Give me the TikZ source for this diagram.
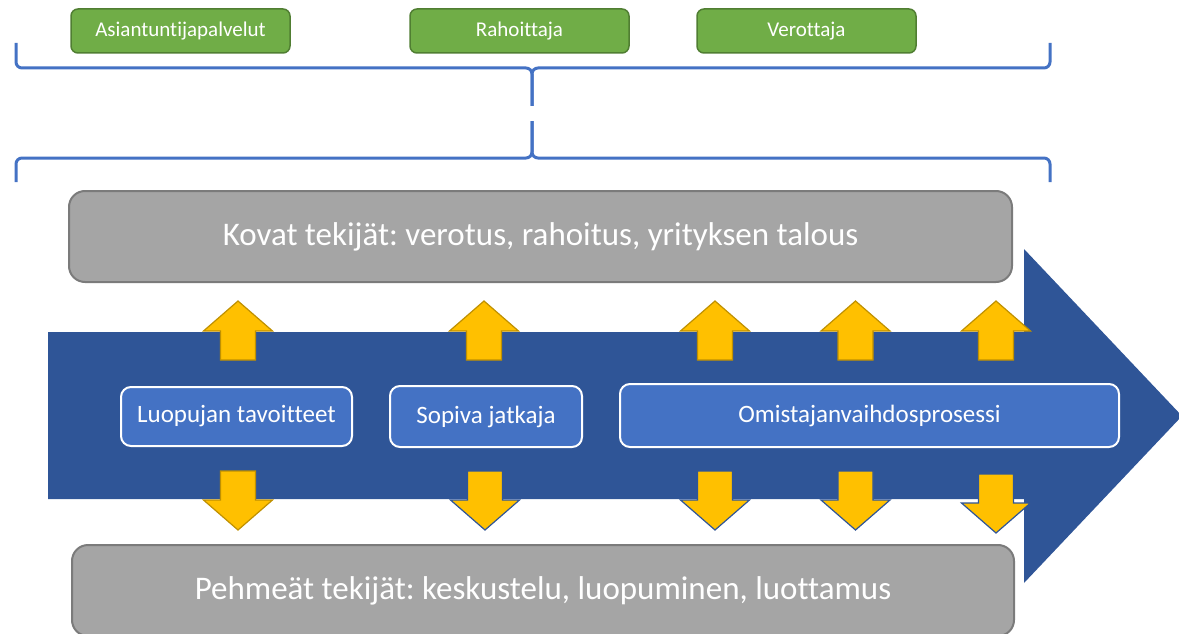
\documentclass[tikz,border=0pt]{standalone}
\usepackage{fontspec}
\setmainfont{Carlito}[Ligatures={NoCommon}]
\frenchspacing
\definecolor{bracecol}{HTML}{4472C4}
\definecolor{greenfill}{HTML}{70AD47}
\definecolor{greenline}{HTML}{507E32}
\definecolor{greyfill}{HTML}{A5A5A5}
\definecolor{greyline}{HTML}{7B7B7B}
\definecolor{bigblue}{HTML}{2F5597}
\definecolor{boxblue}{HTML}{4472C4}
\definecolor{yellowfill}{HTML}{FFC000}
\definecolor{yellowline}{HTML}{BF9000}
\tikzset{
  greenbox/.style={draw=greenline, line width=1.5pt, fill=greenfill, rounded corners=7pt,
    text=white, inner sep=0pt, minimum width=219pt, minimum height=44pt,
    font=\fontsize{21}{25}\selectfont},
  greybox/.style={draw=greyline, line width=2pt, fill=greyfill, rounded corners=16pt,
    text=white, inner sep=0pt, minimum height=91pt, font=\fontsize{33}{40}\selectfont},
  bluebox/.style={draw=white, line width=2pt, fill=boxblue, rounded corners=10pt,
    text=white, inner sep=0pt, font=\fontsize{25}{30}\selectfont},
  bracestyle/.style={draw=bracecol, line width=3pt, rounded corners=6pt},
  yarrow/.style={fill=yellowfill, draw=yellowline, line width=1.2pt, line join=miter},
  uparr/.pic={\path[yarrow] (-17.5,0) -- (-17.5,-29) -- (-34.5,-29) -- (0,-59) -- (34.5,-29) -- (17.5,-29) -- (17.5,0) -- cycle;},
  dnarr/.pic={\path[yarrow,#1] (-17.5,0) -- (-17.5,29) -- (-34.5,29) -- (0,59) -- (34.5,29) -- (17.5,29) -- (17.5,0) -- cycle;},
  dnarr/.default={}
}
\begin{document}
\begin{tikzpicture}[x=1pt,y=-1pt]
\useasboundingbox (0,0) rectangle (1179,634);
% braces
\draw[bracestyle] (16,43) -- (16,68) -- (532,68) -- (532,106);
\draw[bracestyle] (1050,43) -- (1050,68) -- (532,68) -- (532,106);
\draw[bracestyle] (16,182) -- (16,158) -- (532,158) -- (532,121);
\draw[bracestyle] (1050,182) -- (1050,158) -- (532,158) -- (532,121);
% grey boxes
\node[greybox, minimum width=943pt] (hard) at (540.5,236.5) {Kovat tekijät: verotus, rahoitus, yrityksen talous};
\node[greybox, minimum width=942pt] (soft) at (543,590.5) {Pehmeät tekijät: keskustelu, luopuminen, luottamus};
% big arrow
\fill[bigblue] (48,332) -- (1024,332) -- (1024,249) -- (1182,416) -- (1024,583) -- (1024,499) -- (48,499) -- cycle;
% yellow arrows
\foreach \cx in {238,484,715,855.5,996} { \pic at (\cx,360) {uparr}; }
\pic at (238,471) {dnarr};
\foreach \cx in {485,715,855.5} { \pic at (\cx,471) {dnarr={draw=bigblue}}; }
\pic at (996,474) {dnarr={draw=bigblue}};
% blue boxes
\node[bluebox, minimum width=231pt, minimum height=59pt] (goal) at (236.5,416.5) {Luopujan tavoitteet};
\node[bluebox, minimum width=192pt, minimum height=61pt] (succ) at (486,416.5) {Sopiva jatkaja};
\node[bluebox, minimum width=499pt, minimum height=63pt] (proc) at (869.5,415.5) {Omistajanvaihdosprosessi};
% green boxes
\node[greenbox] (expert) at (180.5,31) {Asiantuntijapalvelut};
\node[greenbox] (fin) at (519.5,31) {Rahoittaja};
\node[greenbox] (tax) at (806.5,31) {Verottaja};
\end{tikzpicture}
\end{document}
